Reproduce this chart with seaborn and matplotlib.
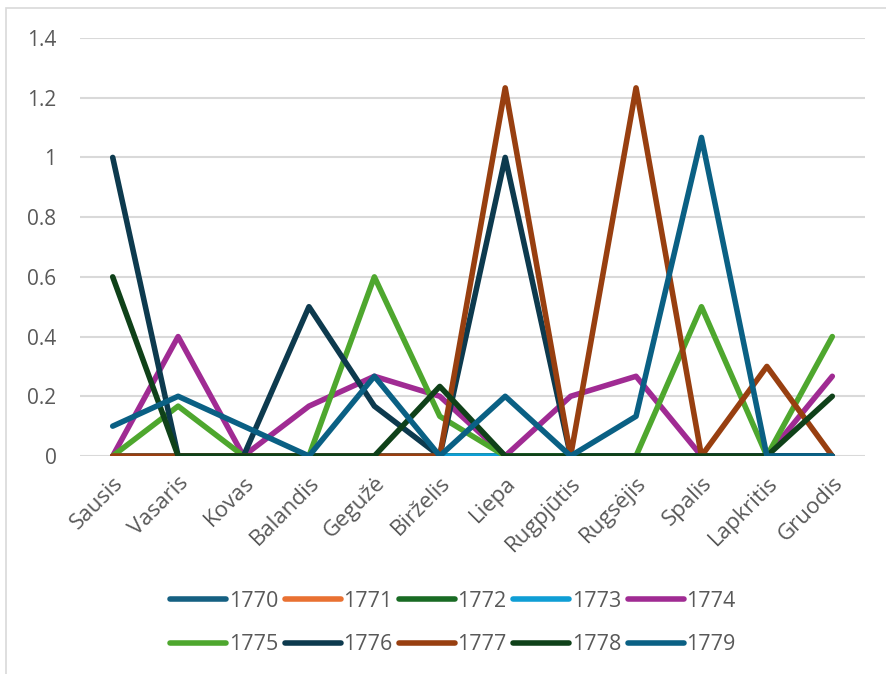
import matplotlib
matplotlib.use("Agg")
import matplotlib.pyplot as plt
import seaborn as sns
import pandas as pd
from matplotlib.patches import Rectangle

months = ["Sausis", "Vasaris", "Kovas", "Balandis", "Gegužė", "Birželis",
          "Liepa", "Rugpjūtis", "Rugsėjis", "Spalis", "Lapkritis", "Gruodis"]
years = ["1770", "1771", "1772", "1773", "1774", "1775", "1776", "1777", "1778", "1779"]

v1770 = [0, 0, 0, 0, 0, 0, 0, 0, 0, 0, 0, 0]
v1771 = [0, 0, 0, 0, 0, 0, 0, 0, 0, 0, 0, 0]
v1772 = [0, 0, 0, 0, 0, 0, 0, 0, 0, 0, 0, 0]
v1773 = [0, 0, 0, 0, 0, 0, 0, 0, 0, 0, 0, 0]
v1774 = [0, 0.4, 0, 0.167, 0.267, 0.2, 0, 0.2, 0.267, 0, 0, 0.267]
v1775 = [0, 0.167, 0, 0, 0.6, 0.133, 0, 0, 0, 0.5, 0, 0.4]
v1776 = [1.0, 0, 0, 0.5, 0.167, 0, 1.0, 0, 0, 0, 0, 0]
v1777 = [0, 0, 0, 0, 0, 0, 1.233, 0, 1.233, 0, 0.3, 0]
v1778 = [0.6, 0, 0, 0, 0, 0.233, 0, 0, 0, 0, 0, 0.2]
v1779 = [0.1, 0.2, 0.1, 0, 0.267, 0, 0.2, 0, 0.133, 1.067, 0, 0]

series = [v1770, v1771, v1772, v1773, v1774, v1775, v1776, v1777, v1778, v1779]
colors = ["#156082", "#E97132", "#196B24", "#0F9ED5", "#A02B93",
          "#4EA72E", "#0D3A4E", "#983F10", "#0F4119", "#0A6084"]

rows = []
for y, vals in zip(years, series):
    for i, v in enumerate(vals):
        rows.append({"Mėnuo": i, "Metai": y, "Reikšmė": v})
df = pd.DataFrame(rows)

sns.set_theme(style="white")
plt.rcParams["font.family"] = ["Open Sans", "DejaVu Sans"]

fig = plt.figure(figsize=(8.86, 6.74), dpi=100)
ax = fig.add_axes([80/886, 1 - 456/674, (865-80)/886, (456-38)/674])

LW = 4.0
sns.lineplot(data=df, x="Mėnuo", y="Reikšmė", hue="Metai", hue_order=years,
             palette=dict(zip(years, colors)), sort=False, linewidth=LW,
             ax=ax, legend=True)
for line in ax.get_lines():
    line.set_solid_capstyle("round")
    line.set_solid_joinstyle("round")

ax.set_xlim(-0.5, 11.5)
ax.set_ylim(0, 1.4)
ax.set_yticks([0, 0.2, 0.4, 0.6, 0.8, 1.0, 1.2, 1.4])
ax.set_yticklabels(["0", "0.2", "0.4", "0.6", "0.8", "1", "1.2", "1.4"])
ax.set_xticks(range(12))
ax.set_xticklabels(months, rotation=45, ha="right", rotation_mode="anchor")
ax.tick_params(axis="both", length=0, labelcolor="#595959")
ax.tick_params(axis="y", pad=17, labelsize=15)
ax.tick_params(axis="x", pad=12, labelsize=16)
ax.grid(axis="y", color="#D9D9D9", linewidth=1.5)
ax.set_axisbelow(True)
for s in ax.spines.values():
    s.set_visible(False)
ax.set_xlabel("")
ax.set_ylabel("")

handles, labels = ax.get_legend_handles_labels()
ax.get_legend().remove()
order = [0, 5, 1, 6, 2, 7, 3, 8, 4, 9]
handles = [handles[i] for i in order]
labels = [labels[i] for i in order]
leg = fig.legend(handles, labels, loc="center", bbox_to_anchor=(453/886, 1 - 623/674),
                 ncol=5, frameon=False, fontsize=15.5, handlelength=2.6,
                 handletextpad=0.12, columnspacing=0.3, labelspacing=1.05)
for t in leg.get_texts():
    t.set_color("#595959")
for h in leg.get_lines():
    h.set_linewidth(LW)
    h.set_solid_capstyle("round")

fig.patches.append(Rectangle((6/886, -0.1), 1.1, 1 - 8/674 + 0.1, transform=fig.transFigure,
                             fill=False, edgecolor="#D9D9D9", linewidth=1.2, zorder=-1))

fig.savefig("out.png", dpi=100)
